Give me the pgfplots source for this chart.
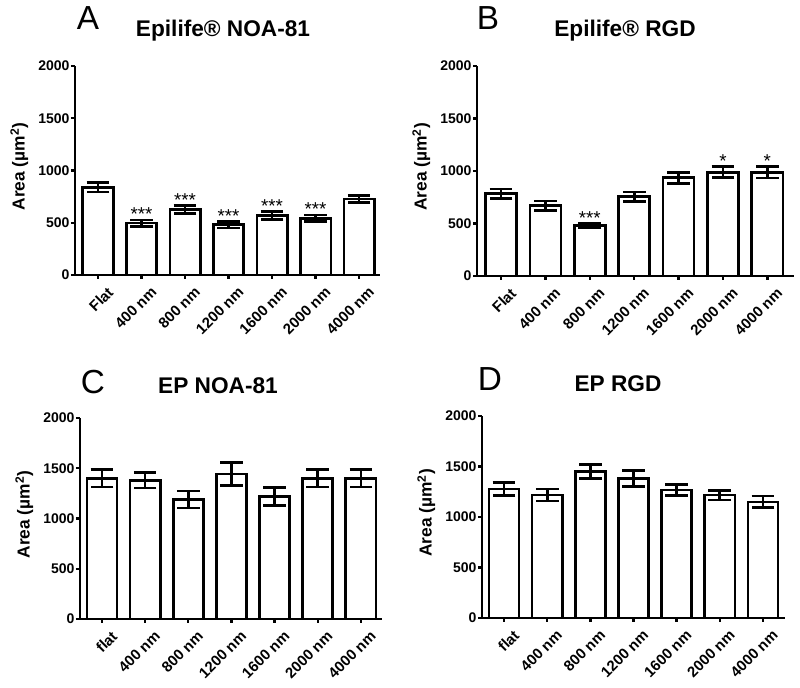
\documentclass[border=0pt]{standalone}
\usepackage{fontspec}
\setmainfont{Liberation Sans}
\usepackage{pgfplots}
\usepackage{pgfplotstable}
\pgfplotsset{compat=1.18}

\pgfplotstableread{
x y e
0 840 45
1 497 30
2 624 38
3 480 30
4 569 38
5 541 32
6 726 34
}\dataA
\pgfplotstableread{
x y e
0 785 45
1 670 44
2 479 20
3 755 45
4 936 52
5 988 52
6 988 55
}\dataB
\pgfplotstableread{
x y e
0 1400 85
1 1380 76
2 1190 85
3 1443 115
4 1220 90
5 1400 85
6 1400 85
}\dataC
\pgfplotstableread{
x y e
0 1276 65
1 1217 60
2 1451 70
3 1382 80
4 1266 55
5 1217 48
6 1150 58
}\dataD

\pgfplotsset{
  panel/.style={
    scale only axis, anchor=south west, clip=false,
    axis lines*=left,
    ymin=0, ymax=2000, ytick={0,500,1000,1500,2000},
    xtick={0,...,6},
    tick align=outside, major tick length=3pt,
    every tick/.style={black, line width=1.8pt},
    axis line style={line width=2pt},
    y tick label style={font=\fontsize{10.5}{12}\selectfont\bfseries, inner sep=1pt},
    x tick label style={font=\fontsize{11.2}{13}\selectfont\bfseries, rotate=45, anchor=north east, inner sep=0pt, xshift=1pt, yshift=-8pt},
    ylabel={Area (µm\textsuperscript{2})},
    ylabel style={font=\fontsize{13}{15}\selectfont\bfseries, yshift=3pt, xshift=3pt},
    /pgf/number format/assume math mode=true,
    /pgf/number format/1000 sep={},
  },
  bars/.style={
    ybar, bar width=0.7, fill=white, draw=black, line width=2pt,
    error bars/.cd, y dir=both, y explicit,
    error bar style={line width=2pt, black},
    error mark options={line width=2pt, mark size=8.5pt, black, rotate=90},
  },
  stars/.style={
    only marks, mark=none, nodes near coords, point meta=explicit symbolic,
    every node near coord/.style={anchor=south, inner sep=0pt, yshift=-1pt, font=\fontsize{14}{14}\selectfont},
  },
}

\begin{document}
\begin{tikzpicture}
\useasboundingbox (0,0) rectangle (600pt,516pt);

% Panel A
\begin{axis}[panel, at={(56.25pt,309.75pt)}, width=228.75pt, height=156.75pt,
  xmin=-0.53, xmax=6.48,
  xticklabels={Flat,400 nm,800 nm,1200 nm,1600 nm,2000 nm,4000 nm}]
\addplot[bars] table[x=x, y=y, y error=e] {\dataA};
\addplot[stars] coordinates {(1,532) [***] (2,667) [***] (3,515) [***] (4,612) [***] (5,578) [***]};
\end{axis}
\node[anchor=base, font=\fontsize{25}{29}\selectfont] at (66pt,493.5pt) {A};
\node[anchor=base, font=\fontsize{17}{20}\selectfont\bfseries] at (167.25pt,488.25pt) {Epilife® NOA-81};

% Panel B
\begin{axis}[panel, at={(357.75pt,309pt)}, width=237.75pt, height=157.5pt,
  xmin=-0.54, xmax=6.6,
  xticklabels={Flat,400 nm,800 nm,1200 nm,1600 nm,2000 nm,4000 nm}]
\addplot[bars] table[x=x, y=y, y error=e] {\dataB};
\addplot[stars] coordinates {(2,504) [***] (5,1045) [*] (6,1048) [*]};
\end{axis}
\node[anchor=base, font=\fontsize{25}{29}\selectfont] at (366pt,493.5pt) {B};
\node[anchor=base, font=\fontsize{17}{20}\selectfont\bfseries] at (468.75pt,488.25pt) {Epilife® RGD};

% Panel C
\begin{axis}[panel, at={(60pt,51.75pt)}, width=226.5pt, height=150.75pt,
  xmin=-0.51, xmax=6.49,
  xticklabels={flat,400 nm,800 nm,1200 nm,1600 nm,2000 nm,4000 nm}]
\addplot[bars] table[x=x, y=y, y error=e] {\dataC};
\end{axis}
\node[anchor=base, font=\fontsize{25}{29}\selectfont] at (69.75pt,220.5pt) {C};
\node[anchor=base, font=\fontsize{17}{20}\selectfont\bfseries] at (163.5pt,220.5pt) {EP NOA-81};

% Panel D
\begin{axis}[panel, at={(361.5pt,52.5pt)}, width=227.25pt, height=151.5pt,
  xmin=-0.51, xmax=6.51,
  xticklabels={flat,400 nm,800 nm,1200 nm,1600 nm,2000 nm,4000 nm}]
\addplot[bars] table[x=x, y=y, y error=e] {\dataD};
\end{axis}
\node[anchor=base, font=\fontsize{25}{29}\selectfont] at (367.5pt,222.75pt) {D};
\node[anchor=base, font=\fontsize{17}{20}\selectfont\bfseries] at (463.5pt,222pt) {EP RGD};
\end{tikzpicture}
\end{document}
